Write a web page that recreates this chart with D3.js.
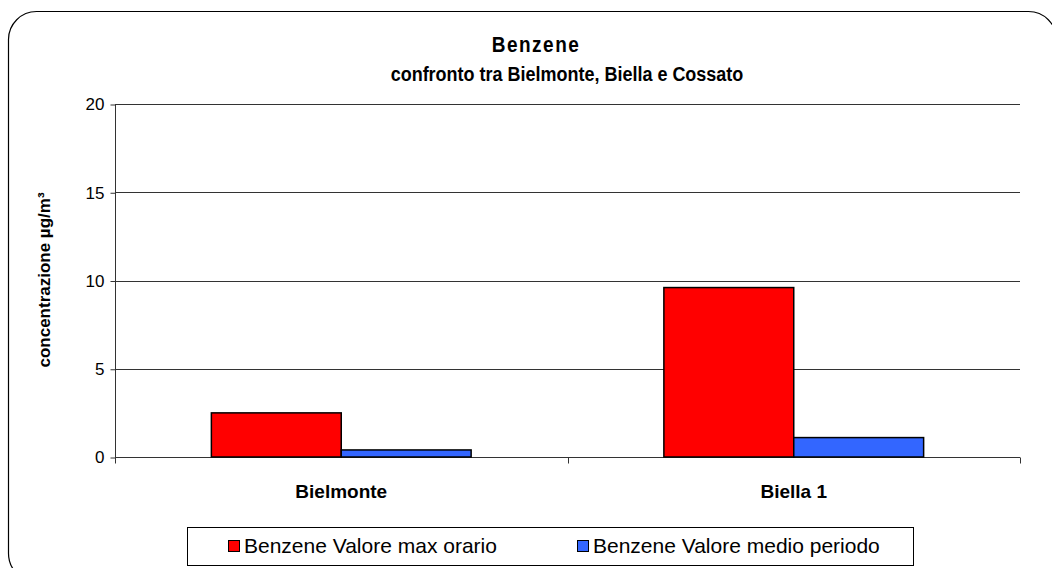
<!DOCTYPE html>
<html><head><meta charset="utf-8">
<script src="https://cdn.jsdelivr.net/npm/d3@7"></script>
<style>body{margin:0;background:#fff}svg{display:block;font-family:"Liberation Sans",Arial,sans-serif}</style>
</head><body><svg id="c" width="1052" height="568"></svg>
<script>
const categories = ["Bielmonte", "Biella 1"];
const seriesNames = ["Benzene Valore max orario", "Benzene Valore medio periodo"];
const seriesColors = ["#ff0000", "#3366ff"];
const maxOrario = [2.5, 9.6];
const medioPeriodo = [0.4, 1.1];
const yTicks = [0, 5, 10, 15, 20];

const svg = d3.select("#c");
svg.append("rect").attr("x", 8.5).attr("y", 11.5).attr("width", 1048).attr("height", 570)
  .attr("rx", 28).attr("fill", "#fff").attr("stroke", "#000").attr("stroke-width", 1.2);

const m = {l: 115, t: 104, r: 1020, b: 457};
const x = d3.scaleBand().domain(categories).range([m.l, m.r]);
const y = d3.scaleLinear().domain([0, 20]).range([m.b, m.t]);

svg.append("g").selectAll("line").data(yTicks.filter(d => d > 0)).join("line")
  .attr("x1", m.l).attr("x2", m.r).attr("y1", d => Math.round(y(d)) + 0.5).attr("y2", d => Math.round(y(d)) + 0.5)
  .attr("stroke", "#333").attr("stroke-width", 1);

const ya = svg.append("g").attr("transform", `translate(${m.l + 0.5},0.5)`)
  .call(d3.axisLeft(y).tickValues(yTicks).tickSize(5).tickPadding(6));
ya.select(".domain").attr("stroke", "#333").attr("d", `M0,${m.t}V${m.b}`);
ya.selectAll(".tick line").attr("stroke", "#333");
ya.selectAll(".tick text").attr("font-size", 17).attr("fill", "#000").attr("font-family", "Liberation Sans, Arial");

const xa = svg.append("g").attr("transform", `translate(0,${m.b + 0.5})`);
xa.append("line").attr("x1", m.l).attr("x2", m.r).attr("stroke", "#333");
xa.selectAll("line.t").data([m.l, x(categories[1]), m.r]).join("line").attr("class", "t")
  .attr("x1", d => Math.round(d) + 0.5).attr("x2", d => Math.round(d) + 0.5).attr("y1", 0).attr("y2", 6).attr("stroke", "#333");
xa.selectAll("text").data(categories).join("text")
  .attr("x", d => x(d) + x.bandwidth() / 2).attr("y", 40).attr("text-anchor", "middle")
  .attr("font-weight", "bold").attr("font-size", 19).text(d => d);

const inner = d3.scaleBand().domain([0, 1]).range([0, x.bandwidth()]).paddingOuter(0.742).paddingInner(0);
const series = [maxOrario, medioPeriodo];
series.forEach((vals, si) => {
  svg.append("g").selectAll("rect").data(vals).join("rect")
    .attr("x", (d, i) => x(categories[i]) + inner(si))
    .attr("width", inner.bandwidth())
    .attr("y", d => y(d)).attr("height", d => y(0) - y(d))
    .attr("fill", seriesColors[si]).attr("stroke", "#000").attr("stroke-width", 1.5);
});

svg.append("text").attr("transform", "translate(536,52) scale(1,1.15)").attr("text-anchor", "middle")
  .attr("font-weight", "bold").attr("font-size", 19).attr("letter-spacing", 1.5).text("Benzene");
svg.append("text").attr("transform", "translate(567,81) scale(1,1.15)").attr("text-anchor", "middle")
  .attr("font-weight", "bold").attr("font-size", 18).text("confronto tra Bielmonte, Biella e Cossato");

svg.append("text").attr("transform", "translate(50,280) rotate(-90)").attr("text-anchor", "middle")
  .attr("font-weight", "bold").attr("font-size", 17).text("concentrazione µg/m³");

svg.append("rect").attr("x", 187.5).attr("y", 527.5).attr("width", 726).attr("height", 38)
  .attr("fill", "#fff").attr("stroke", "#000");
const lx = [228, 577];
const lg = svg.append("g").selectAll("g").data(seriesNames).join("g")
  .attr("transform", (d, i) => `translate(${lx[i]},0)`);
lg.append("rect").attr("x", 0.5).attr("y", 540.5).attr("width", 11).attr("height", 11)
  .attr("fill", (d, i) => seriesColors[i]).attr("stroke", "#000").attr("stroke-width", 1);
lg.append("text").attr("transform", "translate(16,553)").attr("font-size", 21).text(d => d);
</script></body></html>
